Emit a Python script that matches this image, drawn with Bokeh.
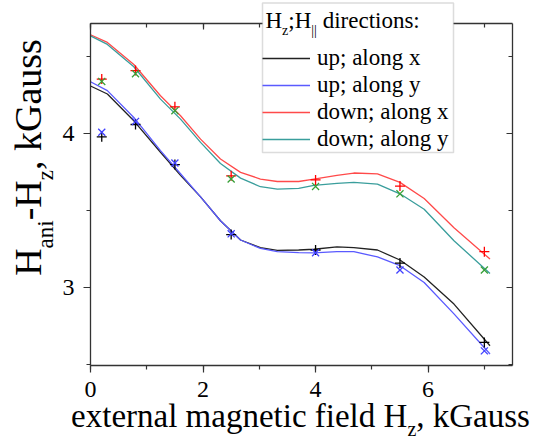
import numpy as np
from bokeh.plotting import figure
from bokeh.models import (Range1d, LinearAxis, SingleIntervalTicker, Label,
                          Legend, LegendItem, CustomJSTickFormatter, BoxAnnotation)
from bokeh.embed import file_html
from bokeh.resources import INLINE

# ---------------- data ----------------
field_pts = [0.2, 0.8, 1.5, 2.5, 4.0, 5.5, 7.0]
up_x_pts = [3.98, 4.06, 3.80, 3.345, 3.245, 3.16, 2.645]
up_y_pts = [4.01, 4.08, 3.81, 3.35, 3.227, 3.115, 2.59]
down_x_pts = [4.355, 4.41, 4.175, 3.727, 3.70, 3.66, 3.234]
down_y_pts = [4.34, 4.39, 4.15, 3.706, 3.658, 3.61, 3.115]

curve_x = [0.0, 0.3, 0.77, 1.244, 1.6, 1.956, 2.31, 2.667, 3.02, 3.32, 3.7,
           3.97, 4.38, 4.68, 5.1, 5.5, 5.93, 6.46, 7.1]
up_x_curve = [4.31, 4.258, 4.084, 3.88, 3.73, 3.59, 3.435, 3.31, 3.26, 3.243,
              3.245, 3.25, 3.266, 3.26, 3.245, 3.18, 3.07, 2.894, 2.623]
up_y_curve = [4.338, 4.28, 4.106, 3.89, 3.74, 3.59, 3.435, 3.31, 3.255, 3.235,
              3.228, 3.227, 3.234, 3.234, 3.20, 3.143, 3.034, 2.83, 2.57]
down_x_curve = [4.643, 4.593, 4.45, 4.247, 4.117, 3.965, 3.836, 3.749, 3.706,
                3.69, 3.69, 3.706, 3.73, 3.745, 3.74, 3.684, 3.58, 3.39, 3.186]
down_y_curve = [4.636, 4.58, 4.435, 4.225, 4.095, 3.944, 3.807, 3.712, 3.656,
                3.64, 3.645, 3.665, 3.678, 3.684, 3.673, 3.61, 3.51, 3.305, 3.093]

legend_labels = ["up; along x", "up; along y", "down; along x", "down; along y"]
x_lo, x_hi = 0.0, 7.5          # axis extent
y_lo, y_hi = 2.495, 4.716
x_tick_interval = 2
y_tick_interval = 1

FONT = "Liberation Serif"
W, H = 550, 439
# pixel box of the axes inside the canvas
BL, BR, BT, BB = 90, 512, 23, 365
MID = 0.3375   # (ascent - descent) / 2 of Liberation Serif, in em

# Times / Liberation Serif advance widths (per 1000 em)
TW = {' ': 250, ',': 250, ';': 278, '-': 333, ':': 278, '|': 200, 'a': 444,
      'c': 444, 'd': 500, 'e': 444, 'f': 333, 'g': 500, 'i': 278, 'k': 500,
      'l': 278, 'm': 778, 'n': 500, 'o': 500, 'r': 333, 's': 389, 't': 278,
      'u': 500, 'w': 722, 'x': 500, 'y': 500, 'z': 444, 'G': 722, 'H': 722}


def tw(s, size):
    return sum(TW.get(c, 500) for c in s) * size / 1000.0


# full-canvas frame; ranges chosen so that the axis box falls at BL..BR, BT..BB
sx_per = (x_hi - x_lo) / (BR - BL)
sy_per = (y_hi - y_lo) / (BB - BT)
xr = Range1d(x_lo - BL * sx_per, x_hi + (W - BR) * sx_per)
yr = Range1d(y_lo - (H - BB) * sy_per, y_hi + BT * sy_per)

p = figure(width=W, height=H, output_backend="svg", toolbar_location=None,
           x_range=xr, y_range=yr, x_axis_location=None, y_axis_location=None)
p.min_border = 0
p.min_border_left = p.min_border_right = p.min_border_top = p.min_border_bottom = 0
p.background_fill_color = "white"
p.border_fill_color = "white"
p.outline_line_color = None
p.grid.visible = False

AX_COL = "#333333"


def make_axis(interval, loc, bounds, inward, labels, standoff=5):
    ax = LinearAxis(ticker=SingleIntervalTicker(interval=interval, num_minor_ticks=2),
                    fixed_location=loc, bounds=bounds)
    ax.axis_line_color = AX_COL
    ax.axis_line_width = 1.3
    ax.major_tick_line_color = AX_COL
    ax.minor_tick_line_color = AX_COL
    ax.major_tick_line_width = 1.2
    ax.minor_tick_line_width = 1.2
    if inward:
        ax.major_tick_in, ax.major_tick_out = 6, 0
        ax.minor_tick_in, ax.minor_tick_out = 4, 0
    else:
        ax.major_tick_in, ax.major_tick_out = 0, 7
        ax.minor_tick_in, ax.minor_tick_out = 0, 4
    if labels:
        ax.major_label_text_font = FONT
        ax.major_label_text_font_size = "24px"
        ax.major_label_text_color = "black"
        ax.major_label_standoff = standoff
    else:
        ax.formatter = CustomJSTickFormatter(code="return ''")
        ax.major_label_text_font_size = "0px"
        ax.major_label_standoff = 0
    return ax


p.add_layout(make_axis(x_tick_interval, y_lo, (x_lo, x_hi), False, True, 9), "below")
p.add_layout(make_axis(y_tick_interval, x_lo, (y_lo, y_hi), False, True, 9), "left")
p.add_layout(make_axis(x_tick_interval, y_hi, (x_lo, x_hi), True, False), "above")
p.add_layout(make_axis(y_tick_interval, x_hi, (y_lo, y_hi), True, False), "right")

# ---------------- curves ----------------
r_upx = p.line(curve_x, up_x_curve, line_color="#222222", line_width=1.3)
r_upy = p.line(curve_x, up_y_curve, line_color="#5a5aff", line_width=1.3)
r_dnx = p.line(curve_x, down_x_curve, line_color="#ff4a4a", line_width=1.3)
r_dny = p.line(curve_x, down_y_curve, line_color="#3a9e9c", line_width=1.3)

# ---------------- measured points ----------------
p.scatter(field_pts, up_x_pts, marker="cross", size=10, line_color="black", line_width=1.3)
p.scatter(field_pts, up_y_pts, marker="x", size=10, line_color="#4040ff", line_width=1.3)
p.scatter(field_pts, down_x_pts, marker="cross", size=10, line_color="#ff0000", line_width=1.3)
p.scatter(field_pts, down_y_pts, marker="x", size=10, line_color="#38a038", line_width=1.3)

# ---------------- legend ----------------
LEG_FS = 23
# white box (legend frame) that also hides the top axis behind the legend
p.add_layout(BoxAnnotation(left=262, right=453, top=H - 2.5, bottom=H - 152,
                           left_units="screen", right_units="screen",
                           top_units="screen", bottom_units="screen",
                           fill_color="white", fill_alpha=1.0,
                           line_color="#8a8a8a", line_width=1.5,
                           level="annotation", editable=False))

legend = Legend(items=[LegendItem(label=legend_labels[0], renderers=[r_upx]),
                       LegendItem(label=legend_labels[1], renderers=[r_upy]),
                       LegendItem(label=legend_labels[2], renderers=[r_dnx]),
                       LegendItem(label=legend_labels[3], renderers=[r_dny])],
                location=(262, H - 152), title=" ", margin=0, padding=3,
                spacing=1, label_standoff=7, glyph_width=48, glyph_height=26,
                label_height=26, title_standoff=10)
legend.title_text_font = FONT
legend.title_text_font_size = f"{LEG_FS}px"
legend.label_text_font = FONT
legend.label_text_font_size = f"{LEG_FS}px"
legend.label_text_color = "black"
legend.border_line_color = None
legend.background_fill_alpha = 0.0
p.add_layout(legend, "center")


def add_text(px, py_base, text, size, angle=0.0):
    """Place text so that its alphabetic baseline lies at py_base (or at x=px for
    the rotated case)."""
    if angle == 0.0:
        x, y = px, py_base - MID * size
    else:
        x, y = px - MID * size, py_base
    p.add_layout(Label(x=x, y=H - y, x_units="screen", y_units="screen", text=text,
                       text_font=FONT, text_font_size=f"{size}px",
                       text_color="black", text_align="left",
                       text_baseline="middle", angle=angle, level="overlay"))


def chain(parts, fs_main, fs_sub):
    """Split leading blanks off each piece so that their width is kept as offset."""
    out = []
    for txt, sub in parts:
        fs = fs_sub if sub else fs_main
        lead = len(txt) - len(txt.lstrip(" "))
        out.append((txt.lstrip(" "), sub, fs, tw(" " * lead, fs), tw(txt.lstrip(" "), fs)))
    return out


# legend title with subscripts
SUB = 14
tx = 265.0
for txt, sub, fs, pre, wid in chain([("H", False), ("z", True), (";H", False),
                                     ("||", True), (" directions:", False)], LEG_FS, SUB):
    tx += pre
    add_text(tx, 28 + (7 if sub else 0), txt, fs)
    tx += wid

# x axis label
XFS, XSUB = 33, 20
xparts = chain([("external magnetic field H", False), ("z", True), (", kGauss", False)],
               XFS, XSUB)
total = sum(pre + wid for _, _, _, pre, wid in xparts)
cx = 300 - total / 2
for txt, sub, fs, pre, wid in xparts:
    cx += pre
    add_text(cx, 427 + (8 if sub else 0), txt, fs)
    cx += wid

# y axis label (rotated, reading upwards); baseline at x=40
YFS, YSUB = 38, 23
yparts = chain([("H", False), ("ani", True), ("-H", False), ("z", True),
                (", kGauss", False)], YFS, YSUB)
total = sum(pre + wid for _, _, _, pre, wid in yparts)
cy = 157 + total / 2
for txt, sub, fs, pre, wid in yparts:
    cy -= pre
    add_text(40 + (13 if sub else 0), cy, txt, fs, angle=np.pi / 2)
    cy -= wid

open("out.html", "w").write(file_html(p, INLINE))
